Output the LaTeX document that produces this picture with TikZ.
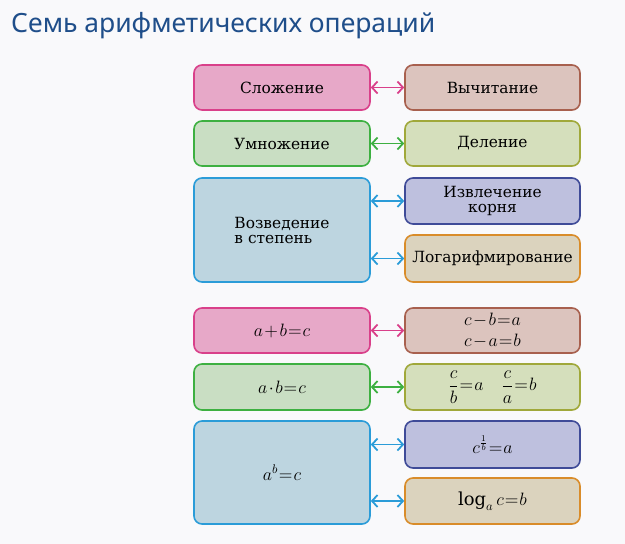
\RequirePackage{fix-cm}
\documentclass[tikz,border=0pt]{standalone}
\usepackage{amsmath}
\usepackage{graphicx}
\usepackage{fontspec}
\setmainfont{DejaVu Serif}
\newfontfamily\titlefont{Noto Sans}
\usetikzlibrary{arrows.meta}
\definecolor{bg}{HTML}{F9F9FB}
\definecolor{titlec}{HTML}{1F4E8A}
\definecolor{pinkF}{HTML}{E7A8C8}\definecolor{pinkD}{HTML}{D9408A}
\definecolor{brownF}{HTML}{DCC4BE}\definecolor{brownD}{HTML}{A8604E}
\definecolor{greenF}{HTML}{C9DEC3}\definecolor{greenD}{HTML}{3DB041}
\definecolor{oliveF}{HTML}{D5DFBC}\definecolor{oliveD}{HTML}{A0A83A}
\definecolor{blueF}{HTML}{BDD5E0}\definecolor{blueD}{HTML}{2B9CD8}
\definecolor{purpF}{HTML}{BEC0DE}\definecolor{purpD}{HTML}{3F4B98}
\definecolor{tanF}{HTML}{DBD3BE}\definecolor{tanD}{HTML}{D98C2A}
\newcommand{\tightmath}{\medmuskip=1.5mu\thickmuskip=1mu\relax}
\newcommand{\mm}[1]{\scalebox{1.12}{$#1$}}
\tikzset{
  opbox/.style={rounded corners=8pt, line width=1.6pt, inner sep=0pt,
    align=center, font=\fontsize{15.4}{15}\selectfont},
  mbox/.style={opbox, font=\fontsize{16}{21}\selectfont\tightmath},
  link/.style={line width=1.8pt, {Straight Barb[length=5.5pt,width=12pt]}-{Straight Barb[length=5.5pt,width=12pt]}},
}
\newcommand{\obox}[8][center]{% align, name, x1,y1,x2,y2, colour, text
  \node[opbox, align=#1, draw=#7D, fill=#7F, minimum width={(#5-#3)*1pt}, minimum height={(#6-#4)*1pt}] (#2) at ({(#3+#5)/2},{(#4+#6)/2}) {#8};}
\newcommand{\mmbox}[7]{%
  \node[mbox, draw=#6D, fill=#6F, minimum width={(#4-#2)*1pt}, minimum height={(#5-#3)*1pt}] (#1) at ({(#2+#4)/2},{(#3+#5)/2}) {#7};}
\begin{document}
\begin{tikzpicture}[x=1pt,y=-1pt]
\fill[bg] (0,0) rectangle (625,544);
\useasboundingbox (0,0) rectangle (625,544);
\node[anchor=base west, inner sep=0pt, text=titlec, font=\titlefont\fontsize{26.5}{30}\selectfont] (title) at (11,32) {Семь арифметических операций};
% text boxes
\obox{a1}{194}{65}{370}{110}{pink}{Сложение}
\obox{b1}{405}{65}{580}{110}{brown}{Вычитание}
\obox{a2}{194}{121}{370}{166}{green}{Умножение}
\obox{b2}{405}{121}{580}{166}{olive}{Деление}
\obox[left]{a3}{194}{178}{370}{282}{blue}{Возведение\\в степень}
\obox{b3}{405}{178}{580}{224}{purp}{Извлечение\\корня}
\obox{c3}{405}{235}{580}{282}{tan}{Логарифмирование}
% formula boxes
\mmbox{a4}{194}{308}{370}{353}{pink}{\mm{a+b=c}}
\mmbox{b4}{405}{308}{580}{353}{brown}{\mm{c-b=a}\\\mm{c-a=b}}
\mmbox{a5}{194}{364}{370}{410}{green}{\mm{a\cdot b=c}}
\mmbox{b5}{405}{364}{580}{410}{olive}{\mm{\dfrac{c}{b}=a\quad\dfrac{c}{a}=b}}
\mmbox{a6}{194}{421}{370}{524}{blue}{\mm{a^{b}=c}}
\mmbox{b6}{405}{421}{580}{468}{purp}{\mm{c^{\frac{1}{b}}=a}}
\mmbox{c6}{405}{478}{580}{524}{tan}{\mm{\log_{a}c=b}}
% connectors
\draw[link, pinkD] (a1.east) -- (b1.west);
\draw[link, greenD] (a2.east) -- (b2.west);
\draw[link, blueD] (a3.east |- b3.west) -- (b3.west);
\draw[link, blueD] (a3.east |- c3.west) -- (c3.west);
\draw[link, pinkD] (a4.east) -- (b4.west);
\draw[link, greenD] (a5.east) -- (b5.west);
\draw[link, blueD] (a6.east |- b6.west) -- (b6.west);
\draw[link, blueD] (a6.east |- c6.west) -- (c6.west);
\end{tikzpicture}
\end{document}
